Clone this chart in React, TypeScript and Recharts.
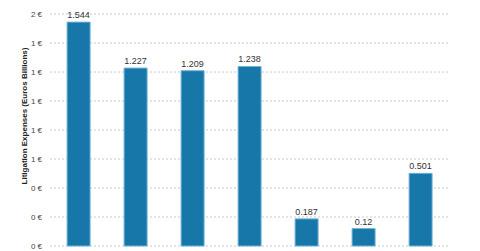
import { BarChart, Bar, XAxis, YAxis, CartesianGrid, LabelList, Label } from "recharts";

const years = ["2012", "2013", "2014", "2015", "2016", "2017", "2018"];
const expenses = [1.544, 1.227, 1.209, 1.238, 0.187, 0.12, 0.501];
const yTicks = [0, 0.2, 0.4, 0.6, 0.8, 1.0, 1.2, 1.4, 1.6];

const chartData = years.map((year, i) => ({ year, value: expenses[i] }));

const font = "'Liberation Sans', Arial, sans-serif";

export default function App() {
  return (
    <div style={{ position: "absolute", left: 0, top: 0, background: "#fff" }}>
      <BarChart
        width={480}
        height={251}
        data={chartData}
        margin={{ top: 14, right: 31, left: 0, bottom: 5 }}
        barCategoryGap="30%"
      >
        <CartesianGrid vertical={false} stroke="#c8c8c8" strokeDasharray="2 2" />
        <XAxis dataKey="year" hide />
        <YAxis
          width={50}
          domain={[0, 1.6]}
          ticks={yTicks}
          axisLine={false}
          tickLine={false}
          tick={{ fontSize: 8, fill: "#444", fontFamily: font }}
          tickFormatter={(v: number) => `${Math.round(v)} €`}
        >
          <Label
            content={() => (
              <text
                x={24}
                y={116}
                transform="rotate(-90 24 116)"
                textAnchor="middle"
                dominantBaseline="central"
                fontSize={8}
                fontWeight="bold"
                fill="#222"
                fontFamily={font}
              >
                Litigation Expenses (Euros Billions)
              </text>
            )}
          />
        </YAxis>
        <Bar dataKey="value" fill="#1777a8" stroke="#6fb3d8" strokeWidth={1} isAnimationActive={false}>
          <LabelList
            dataKey="value"
            position="top"
            offset={4}
            style={{ fontSize: 9, fill: "#333", fontFamily: font }}
          />
        </Bar>
      </BarChart>
    </div>
  );
}
